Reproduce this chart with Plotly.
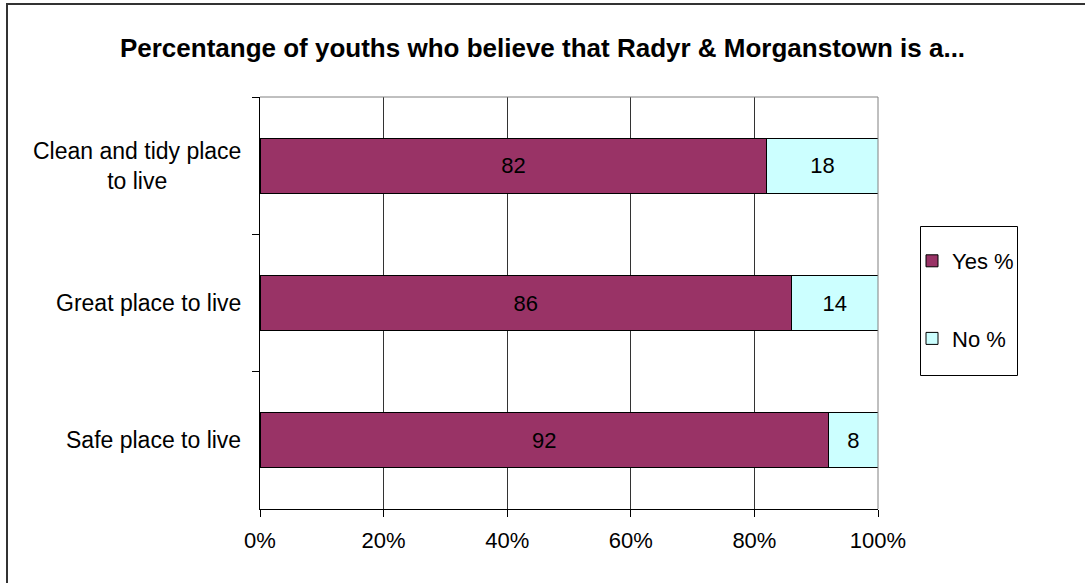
import plotly.graph_objects as go

categories = ["Clean and tidy place<br>to live", "Great place to live", "Safe place to live"]
yes_pct = [82, 86, 92]
no_pct = [18, 14, 8]
series_names = ["Yes %", "No %"]
x_ticks = [0, 20, 40, 60, 80, 100]
x_tick_labels = ["0%", "20%", "40%", "60%", "80%", "100%"]
title_text = "Percentange of youths who believe that Radyr & Morganstown is a..."

W, H = 1085, 583
L, R, T, B = 260, 878, 97, 509
pw, ph = R - L, B - T

def px(xp):
    return (xp - L) / pw

def py(yp):
    return (B - yp) / ph

FONT = "Liberation Sans, Arial, sans-serif"

fig = go.Figure()
fig.add_trace(go.Bar(
    y=categories, x=yes_pct, name=series_names[0], orientation="h",
    marker=dict(color="#993366", line=dict(color="#000000", width=1)),
    text=[str(v) for v in yes_pct], textposition="inside", insidetextanchor="middle",
    textfont=dict(family=FONT, size=22, color="#000000"),
    legendgroup="a", hoverinfo="skip",
))
fig.add_trace(go.Bar(
    y=categories, x=no_pct, name=series_names[1], orientation="h",
    marker=dict(color="#CCFFFF", line=dict(color="#000000", width=1)),
    text=[str(v) for v in no_pct], textposition="inside", insidetextanchor="middle",
    textfont=dict(family=FONT, size=22, color="#000000"),
    legendgroup="b", hoverinfo="skip",
))

annotations = []
for c in categories:
    annotations.append(dict(
        x=px(243), xref="paper", y=c, yref="y", text=c, showarrow=False,
        xanchor="right", yanchor="middle", align="center",
        font=dict(family=FONT, size=23, color="#000000"),
    ))

shapes = [
    # outer chart border
    dict(type="rect", xref="paper", yref="paper", x0=px(7), x1=px(W + 20),
         y0=py(H + 20), y1=py(4), line=dict(color="#333333", width=2),
         fillcolor="rgba(0,0,0,0)", layer="below"),
    # plot area top & right border
    dict(type="line", xref="paper", yref="paper", x0=0, x1=1, y0=1, y1=1,
         line=dict(color="#808080", width=1), layer="above"),
    dict(type="line", xref="paper", yref="paper", x0=1, x1=1, y0=0, y1=1,
         line=dict(color="#808080", width=1), layer="above"),
    # legend box
    dict(type="rect", xref="paper", yref="paper", x0=px(920.5), x1=px(1017.5),
         y0=py(375.5), y1=py(226.5), line=dict(color="#000000", width=1),
         fillcolor="rgba(0,0,0,0)", layer="above"),
]

fig.update_layout(
    width=W, height=H,
    margin=dict(l=L, r=W - R, t=T, b=H - B, pad=0),
    paper_bgcolor="#FFFFFF", plot_bgcolor="#FFFFFF",
    barmode="stack", bargap=0.6,
    title=dict(text="<b>" + title_text + "</b>", x=0.5, xanchor="center",
               xref="container",
               y=1 - 48 / H, yanchor="middle",
               font=dict(family=FONT, size=26, color="#000000")),
    font=dict(family=FONT, size=22, color="#000000"),
    xaxis=dict(range=[0, 100], tickvals=x_ticks, ticktext=x_tick_labels,
               showgrid=True, gridcolor="#333333", gridwidth=1,
               showline=True, linecolor="#000000", linewidth=1,
               ticks="outside", ticklen=7, tickcolor="#000000",
               ticklabelstandoff=5,
               zeroline=False, fixedrange=True,
               tickfont=dict(family=FONT, size=22, color="#000000")),
    yaxis=dict(categoryorder="array", categoryarray=categories, autorange="reversed",
               showticklabels=False, tickson="boundaries",
               ticks="outside", ticklen=7, tickcolor="#000000",
               showline=True, linecolor="#000000", linewidth=1,
               showgrid=False, zeroline=False, fixedrange=True),
    showlegend=True,
    legend=dict(x=px(912), y=py(240), xanchor="left", yanchor="top",
                xref="paper", yref="paper",
                bgcolor="rgba(0,0,0,0)", borderwidth=0,
                traceorder="grouped", tracegroupgap=46,
                font=dict(family=FONT, size=22, color="#000000")),
    annotations=annotations,
    shapes=shapes,
)

fig.write_html("out.html", config={"displayModeBar": False},
               post_script="document.body.style.margin='0';")
